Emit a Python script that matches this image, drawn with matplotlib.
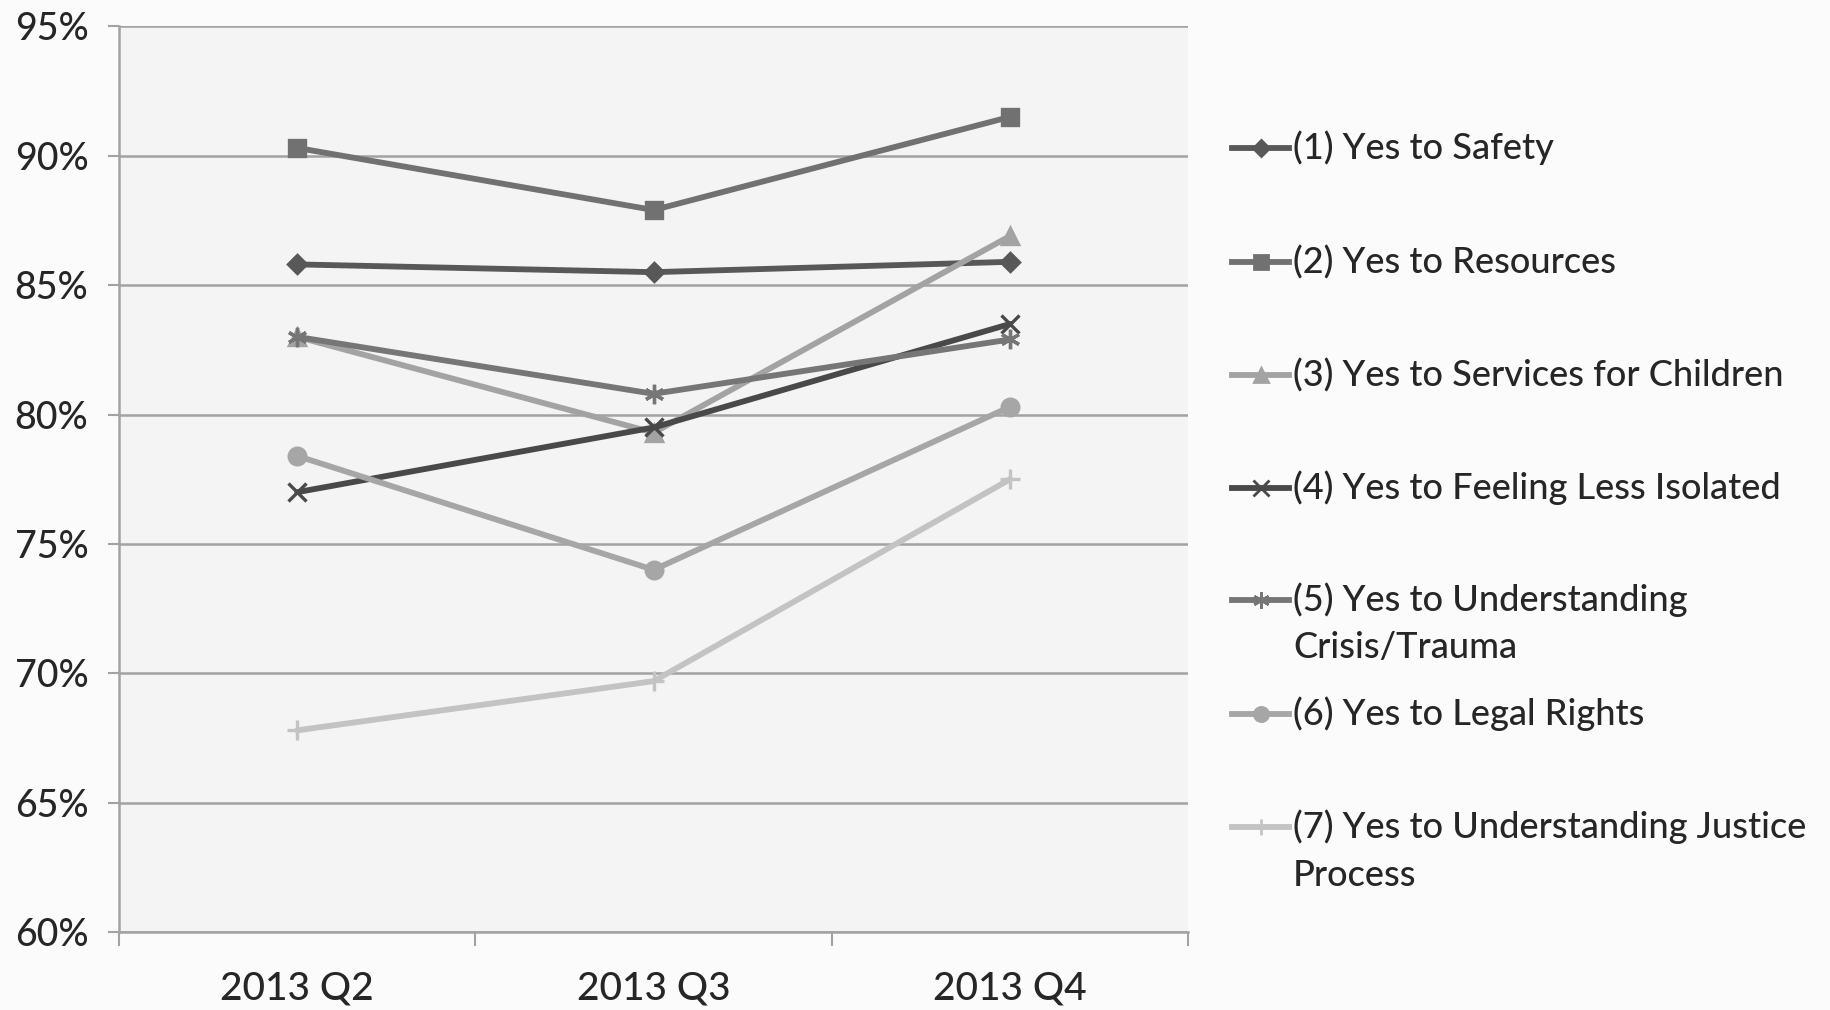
import matplotlib
matplotlib.use("Agg")
import matplotlib.pyplot as plt
from matplotlib.lines import Line2D
from matplotlib.ticker import FixedLocator, PercentFormatter

categories = ["2013 Q2", "2013 Q3", "2013 Q4"]
labels = [
    "(1) Yes to Safety",
    "(2) Yes to Resources",
    "(3) Yes to Services for Children",
    "(4) Yes to Feeling Less Isolated",
    "(5) Yes to Understanding\nCrisis/Trauma",
    "(6) Yes to Legal Rights",
    "(7) Yes to Understanding Justice\nProcess",
]
safety = [85.8, 85.5, 85.9]
resources = [90.3, 87.9, 91.5]
children = [83.0, 79.3, 86.9]
isolated = [77.0, 79.5, 83.5]
crisis = [83.0, 80.8, 82.9]
legal = [78.4, 74.0, 80.3]
justice = [67.8, 69.7, 77.5]
series = [safety, resources, children, isolated, crisis, legal, justice]

colors = ["#585858", "#717171", "#a3a3a3", "#494949", "#767676", "#a6a6a6", "#c3c3c3"]
markers = ["D", "s", "^", "x", (6, 2, 0), "o", "+"]
msizes = [9, 12, 12, 13, 14, 12, 14]

plt.rcParams["font.family"] = ["Lato", "DejaVu Sans"]
TXT = "#262626"

fig = plt.figure(figsize=(18.31, 10.10), dpi=100, facecolor="#fbfbfb")
ax = fig.add_axes([0.065, 0.077, 0.584, 0.897])
ax.set_facecolor("#f4f4f4")

x = list(range(len(categories)))
for vals, c, m, ms in zip(series, colors, markers, msizes):
    ax.plot(x, vals, color=c, lw=4.2, marker=m, ms=ms, mec=c, mfc=c, mew=2.4,
            solid_capstyle="round", zorder=3)

ax.set_xlim(-0.5, 2.5)
ax.set_ylim(60, 95)
ax.yaxis.set_major_locator(FixedLocator([60, 65, 70, 75, 80, 85, 90, 95]))
ax.yaxis.set_major_formatter(PercentFormatter(decimals=0))
ax.grid(axis="y", color="#a2a2a2", lw=1.8, zorder=1)
ax.set_xticks(x)
ax.set_xticklabels(categories)
ax.set_xticks([-0.5, 0.5, 1.5, 2.5], minor=True)
ax.tick_params(axis="x", which="major", length=0, pad=28, labelsize=28, labelcolor=TXT)
ax.tick_params(axis="x", which="minor", length=10, width=1.5, color="#a2a2a2", direction="out")
ax.tick_params(axis="y", length=8, width=1.5, color="#a2a2a2", pad=14, labelsize=27, labelcolor=TXT)
for lbl in ax.get_xticklabels() + ax.get_yticklabels():
    lbl.set_fontweight("medium")
for s in ["top", "right"]:
    ax.spines[s].set_visible(False)
for s in ["left", "bottom"]:
    ax.spines[s].set_color("#a2a2a2")
    ax.spines[s].set_linewidth(1.8)

# manual legend (Excel style: handle aligned with first line of label)
ys = [148, 262, 375, 488, 600, 714, 827]
for lab, c, m, ms, yy in zip(labels, colors, markers, msizes, ys):
    yf = 1 - yy / 1010
    fig.add_artist(Line2D([1232 / 1831, 1289 / 1831], [yf, yf], transform=fig.transFigure,
                          color=c, lw=4.2))
    fig.add_artist(Line2D([1260.5 / 1831], [yf], transform=fig.transFigure, color=c, lw=0,
                          marker=m, ms=ms * 0.85, mec=c, mfc=c, mew=2))
    lines = lab.split("\n")
    for i, ln in enumerate(lines):
        fig.text(1293 / 1831, yf - i * 48 / 1010, ln, fontsize=26, color=TXT,
                 va="center", ha="left", fontweight="medium")

fig.savefig("out.png", dpi=100, facecolor=fig.get_facecolor())
